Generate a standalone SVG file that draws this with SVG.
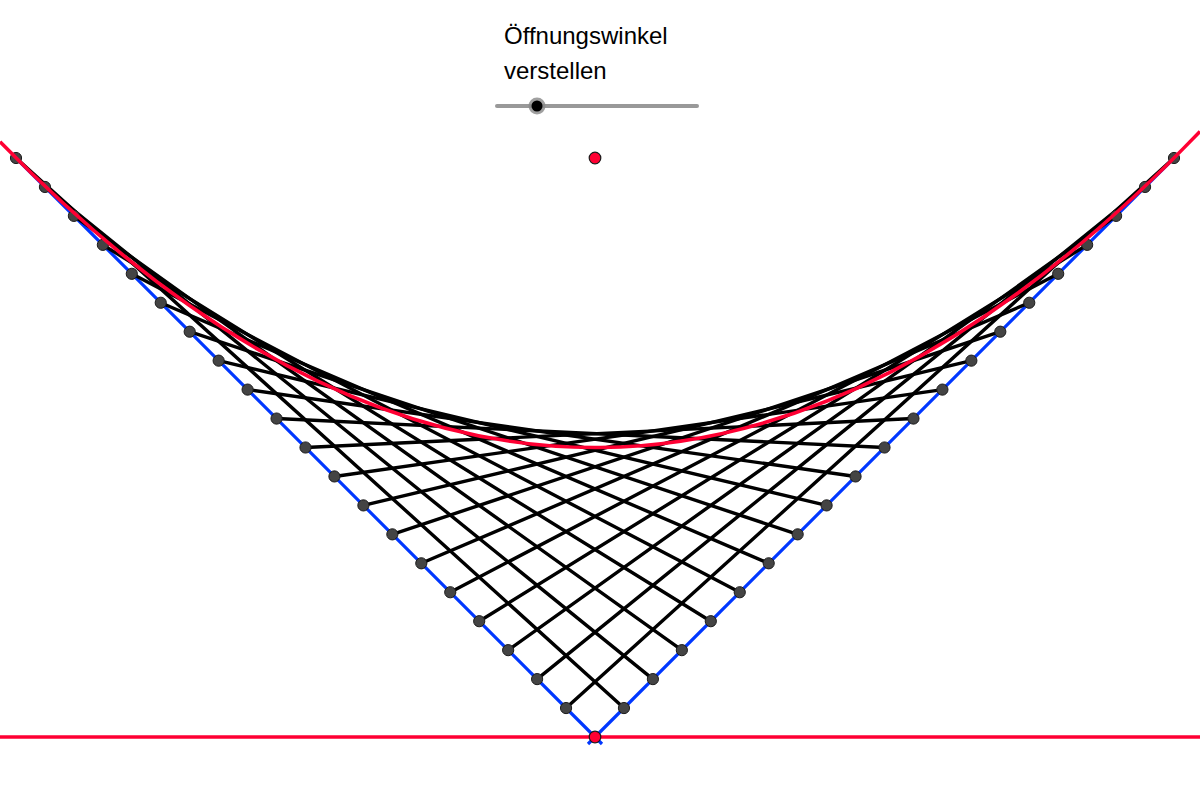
<svg xmlns="http://www.w3.org/2000/svg" width="1200" height="788" viewBox="0 0 1200 788">
<style>
.lbl{font-family:"Liberation Sans",Arial,sans-serif;font-size:24px;fill:#000}
.blk{stroke:#000;stroke-width:3.4;fill:none;stroke-linecap:round}
.blue{stroke:#0037ff;stroke-width:3.2;fill:none}
.red{stroke:#ff0033;stroke-width:3.6;fill:none}
.pt{fill:#444;stroke:#1a1a1a;stroke-width:1}
.rpt{fill:#ff0033;stroke:#1a1a1a;stroke-width:1.2}
</style>
<rect width="1200" height="788" fill="#fff"/>
<g id="label">
<text class="lbl" x="504" y="44">Öffnungswinkel</text>
<text class="lbl" x="504" y="79">verstellen</text>
</g>
<g id="slider">
<line x1="497" y1="106" x2="697" y2="106" stroke="#999" stroke-width="4" stroke-linecap="round"/>
<circle cx="537" cy="106" r="8.5" fill="#888" opacity="0.8"/>
<circle cx="537" cy="106" r="5.5" fill="#000"/>
</g>
<g id="legs">
<line class="blue" x1="16" y1="158" x2="602" y2="744"/>
<line class="blue" x1="1174" y1="158" x2="588" y2="744"/>
</g>
<g id="connectors">
<line class="blk" x1="16" y1="158" x2="623.95" y2="708.05"/>
<line class="blk" x1="44.95" y1="186.95" x2="652.9" y2="679.1"/>
<line class="blk" x1="73.9" y1="215.9" x2="681.85" y2="650.15"/>
<line class="blk" x1="102.85" y1="244.85" x2="710.8" y2="621.2"/>
<line class="blk" x1="131.8" y1="273.8" x2="739.75" y2="592.25"/>
<line class="blk" x1="160.75" y1="302.75" x2="768.7" y2="563.3"/>
<line class="blk" x1="189.7" y1="331.7" x2="797.65" y2="534.35"/>
<line class="blk" x1="218.65" y1="360.65" x2="826.6" y2="505.4"/>
<line class="blk" x1="247.6" y1="389.6" x2="855.55" y2="476.45"/>
<line class="blk" x1="276.55" y1="418.55" x2="884.5" y2="447.5"/>
<line class="blk" x1="305.5" y1="447.5" x2="913.45" y2="418.55"/>
<line class="blk" x1="334.45" y1="476.45" x2="942.4" y2="389.6"/>
<line class="blk" x1="363.4" y1="505.4" x2="971.35" y2="360.65"/>
<line class="blk" x1="392.35" y1="534.35" x2="1000.3" y2="331.7"/>
<line class="blk" x1="421.3" y1="563.3" x2="1029.25" y2="302.75"/>
<line class="blk" x1="450.25" y1="592.25" x2="1058.2" y2="273.8"/>
<line class="blk" x1="479.2" y1="621.2" x2="1087.15" y2="244.85"/>
<line class="blk" x1="508.15" y1="650.15" x2="1116.1" y2="215.9"/>
<line class="blk" x1="537.1" y1="679.1" x2="1145.05" y2="186.95"/>
<line class="blk" x1="566.05" y1="708.05" x2="1174" y2="158"/>
</g>
<g id="points-left">
<circle class="pt" cx="16" cy="158" r="5.6"/>
<circle class="pt" cx="44.95" cy="186.95" r="5.6"/>
<circle class="pt" cx="73.9" cy="215.9" r="5.6"/>
<circle class="pt" cx="102.85" cy="244.85" r="5.6"/>
<circle class="pt" cx="131.8" cy="273.8" r="5.6"/>
<circle class="pt" cx="160.75" cy="302.75" r="5.6"/>
<circle class="pt" cx="189.7" cy="331.7" r="5.6"/>
<circle class="pt" cx="218.65" cy="360.65" r="5.6"/>
<circle class="pt" cx="247.6" cy="389.6" r="5.6"/>
<circle class="pt" cx="276.55" cy="418.55" r="5.6"/>
<circle class="pt" cx="305.5" cy="447.5" r="5.6"/>
<circle class="pt" cx="334.45" cy="476.45" r="5.6"/>
<circle class="pt" cx="363.4" cy="505.4" r="5.6"/>
<circle class="pt" cx="392.35" cy="534.35" r="5.6"/>
<circle class="pt" cx="421.3" cy="563.3" r="5.6"/>
<circle class="pt" cx="450.25" cy="592.25" r="5.6"/>
<circle class="pt" cx="479.2" cy="621.2" r="5.6"/>
<circle class="pt" cx="508.15" cy="650.15" r="5.6"/>
<circle class="pt" cx="537.1" cy="679.1" r="5.6"/>
<circle class="pt" cx="566.05" cy="708.05" r="5.6"/>
</g>
<g id="points-right">
<circle class="pt" cx="623.95" cy="708.05" r="5.6"/>
<circle class="pt" cx="652.9" cy="679.1" r="5.6"/>
<circle class="pt" cx="681.85" cy="650.15" r="5.6"/>
<circle class="pt" cx="710.8" cy="621.2" r="5.6"/>
<circle class="pt" cx="739.75" cy="592.25" r="5.6"/>
<circle class="pt" cx="768.7" cy="563.3" r="5.6"/>
<circle class="pt" cx="797.65" cy="534.35" r="5.6"/>
<circle class="pt" cx="826.6" cy="505.4" r="5.6"/>
<circle class="pt" cx="855.55" cy="476.45" r="5.6"/>
<circle class="pt" cx="884.5" cy="447.5" r="5.6"/>
<circle class="pt" cx="913.45" cy="418.55" r="5.6"/>
<circle class="pt" cx="942.4" cy="389.6" r="5.6"/>
<circle class="pt" cx="971.35" cy="360.65" r="5.6"/>
<circle class="pt" cx="1000.3" cy="331.7" r="5.6"/>
<circle class="pt" cx="1029.25" cy="302.75" r="5.6"/>
<circle class="pt" cx="1058.2" cy="273.8" r="5.6"/>
<circle class="pt" cx="1087.15" cy="244.85" r="5.6"/>
<circle class="pt" cx="1116.1" cy="215.9" r="5.6"/>
<circle class="pt" cx="1145.05" cy="186.95" r="5.6"/>
<circle class="pt" cx="1174" cy="158" r="5.6"/>
</g>
<g id="parabola">
<path class="red" d="M0,141.78 Q600,758.36 1200,131.42"/>
</g>
<g id="directrix">
<line class="red" x1="0" y1="737" x2="1200" y2="737"/>
</g>
<g id="focus">
<circle class="rpt" cx="595" cy="158" r="5.8"/>
</g>
<g id="vertex">
<circle class="rpt" cx="595" cy="737" r="5.8"/>
</g>
</svg>
